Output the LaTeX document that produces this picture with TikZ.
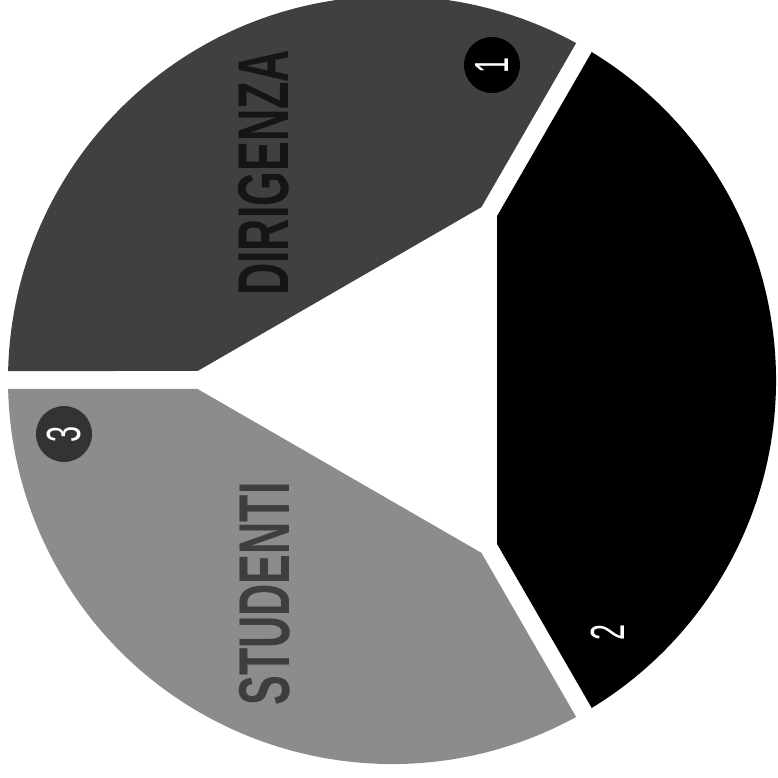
\documentclass[tikz,border=0pt]{standalone}
\usepackage{fontspec}
\newfontfamily\condbold[FakeStretch=0.62]{Liberation Sans Bold}
\newfontfamily\condreg[FakeStretch=0.6]{Liberation Sans}
\definecolor{secA}{HTML}{404040}
\definecolor{secB}{HTML}{000000}
\definecolor{secC}{HTML}{8C8C8C}
\definecolor{txtA}{HTML}{151515}
\definecolor{txtC}{HTML}{3E3E3E}
\definecolor{dotC}{HTML}{333333}
\begin{document}
\begin{tikzpicture}[x=1pt,y=1pt,
  sector/.style={fill=#1},
  label/.style={font=\condbold\fontsize{72}{72}\selectfont, rotate=90, inner sep=0pt},
  num/.style={font=\condreg\fontsize{48}{48}\selectfont, text=white, rotate=90, inner sep=0pt},
  badge/.style={circle, fill=#1, minimum size=56pt, inner sep=0pt}]
\def\R{384}\def\D{105}\def\G{9}
\pgfmathsetmacro{\Cy}{1.7320508*\D-2*\G}
\pgfmathsetmacro{\Phi}{60-asin(\G/\R)}
\useasboundingbox (-392,-398) rectangle (385,380);
\fill[white] (-392,-398) rectangle (385,380);
% sectors
\foreach \th/\col in {120/secA, 0/secB, 240/secC}{
  \fill[sector=\col, rotate=\th] (\D,\Cy) -- (\Phi:\R) arc[start angle=\Phi, end angle=-\Phi, radius=\R] -- (\D,-\Cy) -- cycle;
}
% labels
\node[label, text=txtA] (dir) at (-128,207) {DIRIGENZA};
\node[label, text=txtC] (stu) at (-127,-214) {STUDENTI};
% numbers
\node[badge=black] (b1) at (100,315) {};
\node[num] (n1) at (b1.center) {1};
\node[badge=dotC] (b3) at (-328,-54) {};
\node[num] (n3) at (b3.center) {3};
\node[num] (n2) at (216,-252) {2};
\end{tikzpicture}
\end{document}
